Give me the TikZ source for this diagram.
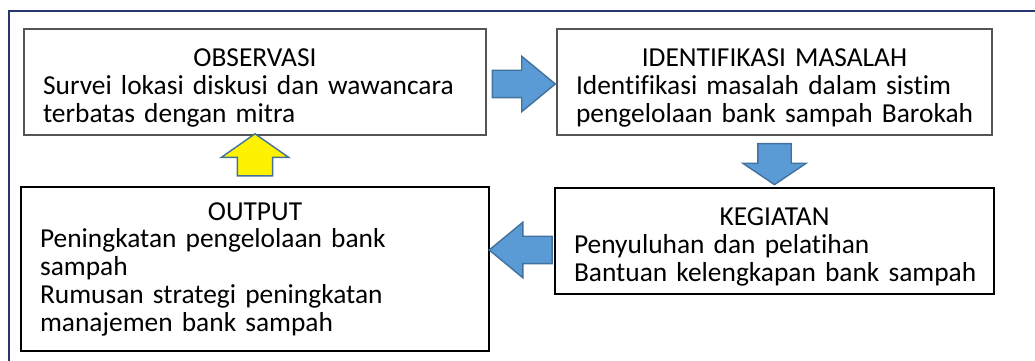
\documentclass[tikz,border=0pt]{standalone}
\usepackage{fontspec}
\setmainfont{Carlito}[Ligatures=NoCommon]
\hyphenpenalty=10000
\definecolor{framenavy}{RGB}{38,55,110}
\definecolor{arrowblue}{RGB}{91,155,213}
\definecolor{arrowedge}{RGB}{65,113,156}
\definecolor{boxgray}{RGB}{85,85,85}
\usetikzlibrary{arrows.meta,positioning,shapes.arrows,calc}
\newcommand{\titlestrut}{\rule{0pt}{0.6cm}}

\begin{document}
\begin{tikzpicture}[
  x=0.02cm,y=-0.02cm,
  every node/.style={font=\fontsize{15.6}{15.8}\selectfont},
  stagebox/.style={draw=boxgray,line width=0.8pt,inner xsep=0.38cm,inner ysep=0pt,align=left,minimum height=2.12cm},
  blockarrow/.style={single arrow,draw=arrowedge,fill=arrowblue,line width=0.8pt,inner xsep=0pt,
    inner ysep=0.26cm,single arrow head extend=0.28cm,single arrow tip angle=79,minimum height=1.26cm},
]
  \useasboundingbox (0,0) rectangle (1035,361);

  % Frame
  \draw[framenavy,line width=1.2pt] (1035,11) -- (9,11) -- (9,361);

  % Stages
  \node[stagebox,text width=8.48cm] (obs) at (255,82) {%
    \titlestrut\makebox[\hsize]{OBSERVASI}\\
    Survei lokasi diskusi dan wawancara\\
    terbatas dengan mitra
  };
  \node[stagebox,text width=7.94cm] (ident) at (774.5,82) {%
    \titlestrut\makebox[\hsize]{IDENTIFIKASI MASALAH}\\
    Identifikasi masalah dalam sistim\\
    \mbox{pengelolaan bank sampah Barokah}
  };
  \node[stagebox,draw=black,text width=8.02cm] (keg) at (774.5,241) {%
    \titlestrut\makebox[\hsize]{KEGIATAN}\\
    Penyuluhan dan pelatihan\\
    \mbox{Bantuan kelengkapan bank sampah}
  };
  \node[stagebox,draw=black,text width=8.6cm,minimum height=3.28cm] (out) at (255,269) {%
    \makebox[\hsize]{OUTPUT}\\
    Peningkatan pengelolaan bank\\
    sampah\\
    Rumusan strategi peningkatan\\
    manajemen bank sampah
  };

  % Arrows
  \node[xshift=-0.12cm,yshift=-0.04cm,blockarrow] (toident) at ($(obs.east)!0.5!(ident.west)$) {};
  \node[yshift=0.06cm,blockarrow,rotate=-90,inner ysep=0.32cm,single arrow head extend=0.3cm,
        single arrow tip angle=112,minimum height=0.82cm] (tokeg) at ($(ident.south)!0.5!(keg.north)$) {};
  \node[xshift=0.14cm,yshift=-0.18cm,blockarrow,rotate=180] (toout) at ($(keg.west)!0.5!(out.east|-keg.west)$) {};
  \node[blockarrow,fill=yellow,rotate=90,inner ysep=0.34cm,single arrow head extend=0.32cm,
        single arrow tip angle=110,minimum height=0.84cm] (toobs) at ($(out.north)!0.5!(obs.south)$) {};
\end{tikzpicture}
\end{document}
